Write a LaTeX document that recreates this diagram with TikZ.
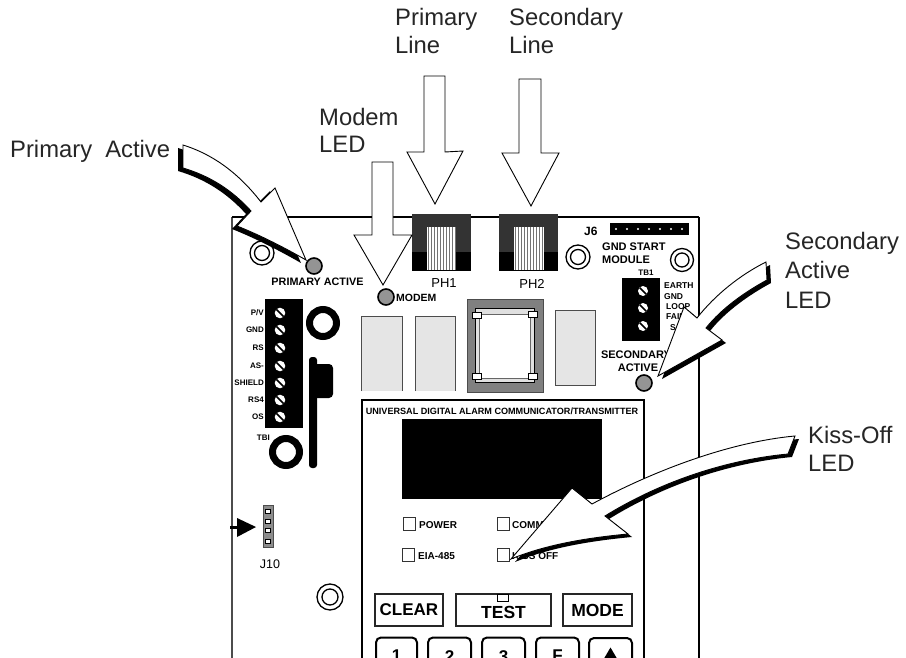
\documentclass[tikz,border=0pt]{standalone}
\usepackage{fontspec}
\setmainfont{Liberation Sans}
\newcommand\fsz[1]{\fontsize{#1}{#1}\selectfont}
\newcommand\fatarrow[3]{\fill[black,shift={(#1,#2)}] #3; \draw[fatbody] #3;}
\tikzset{
  bigtxt/.style={inner sep=0,anchor=base west,text=black!85,font=\fsz{23.8}},
  tiny/.style={inner sep=0,font=\fsz{#1}\bfseries},
  tiny/.default=9,
  fatbody/.style={draw=black,fill=white,line width=0.9,line join=miter},
  relay/.style={draw=black!70,line width=1,fill=black!10},
  standoff/.style={draw=black,line width=1.3,fill=white},
  btn/.style={draw=black!85,line width=1.4,fill=white},
  ledlamp/.style={draw=black,line width=1.6,fill=black!42},
  check/.style={draw=black!80,line width=1,fill=white},
}
\begin{document}
\begin{tikzpicture}[x=1pt,y=-1pt]
\clip (0,0) rectangle (906,658);
\fill[white] (0,0) rectangle (906,658);
% board
\draw[draw=black!70,line width=2] (232,658) -- (232,217);
\draw[black,line width=2.5] (232,217) -- (699,217);
\draw[black,line width=2] (699,217) -- (699,658);
% panel
\draw[black,line width=2] (362,658) -- (362,400) -- (644,400) -- (644,658);
% standoffs
\foreach \x/\y/\r/\i in {262/253/12/7.5,578/257/12/7.5,682/260/11.5/7,330/597/13/8}{
  \draw[standoff] (\x,\y) circle (\r);
  \draw[standoff] (\x,\y) circle (\i);
}
% LEDs
\node[ledlamp,circle,minimum size=16,inner sep=0] (ledprim) at (314,266) {};
\node[ledlamp,circle,minimum size=16,inner sep=0] (ledmodem) at (386,297) {};
\node[ledlamp,circle,minimum size=16,inner sep=0] (ledsec) at (644,383) {};
\node[tiny=10.8,anchor=center] (tprim) at (317.5,282) {PRIMARY ACTIVE};
\node[tiny=10.5,anchor=west] (tmodem) at (396,297.5) {MODEM};
% jacks
\foreach \xa/\xb/\sa/\sb/\nm in {412/471/427/456/PH1,499/558/514/544/PH2}{
  \fill[black!80] (\xa,214) rectangle (\xb,252);
  \fill[black] (\xa,252) rectangle (\xb,271);
  \fill[white] (\sa,227) rectangle (\sb,270);
  \foreach \s in {0,3,...,27}{\draw[black!55,line width=1] (\sa+\s+1,227) -- (\sa+\s+1,270);}
}
\node[inner sep=0,font=\fsz{13}] (ph1) at (444,283.5) {PH1};
\node[inner sep=0,font=\fsz{13}] (ph2) at (532,283.5) {PH2};
% relays
\draw[relay] (361,391) -- (361,316) -- (402,316) -- (402,391);
\draw[relay] (415,391) -- (415,316) -- (455,316) -- (455,391);
\draw[relay] (555,310) rectangle (595,385);
% transformer
\draw[fill=black!50,draw=black!70,line width=1] (467,299) rectangle (543,392);
\draw[fill=black!12,draw=black,line width=1] (475,308) rectangle (534,382);
\draw[fill=white,draw=black!60,line width=1] (479,314) rectangle (530,378);
\foreach \x/\y in {477/315,533/314,477/376,533/376}{
  \draw[fill=white,draw=black,line width=.8] (\x-4.5,\y-3) rectangle (\x+4.5,\y+3);
}
% J6 header
\fill[black] (610,223) rectangle (689,235);
\foreach \i in {0,...,6}{\fill[white] (616+\i*11,229) circle (1.1);}
\node[tiny=12,anchor=west] (j6) at (584,231) {J6};
\node[tiny=11,anchor=west] (gnd) at (602,247) {GND START};
\node[tiny=11,anchor=west] (mod) at (602,260) {MODULE};
\node[tiny=8,anchor=center] (tb) at (646,273) {TB1};
% right terminal block
\fill[black] (622,278) rectangle (660,341);
\foreach \y in {291,308,326}{
  \fill[white] (643,\y) circle (5);
  \draw[black,line width=1.5] (639.5,\y-3.5) -- (646.5,\y+3.5);
}
\node[tiny=8.5,anchor=west] (e1) at (664,286) {EARTH};
\node[tiny=8.5,anchor=west] (e2) at (664,297) {GND};
\node[tiny=8.5,anchor=west] (e3) at (666,307) {LOOP};
\node[tiny=8.5,anchor=west] (e4) at (666,316.5) {FAIL};
\node[tiny=8.5,anchor=west] (e5) at (670,328) {S};
\node[tiny=11,anchor=center] (s1) at (636,355) {SECONDARY};
\node[tiny=11,anchor=center] (s2) at (638,368) {ACTIVE};
% left terminal block
\fill[black] (265,299) rectangle (303,428);
\foreach \y in {313,330,348,366,383,400,417}{
  \fill[white] (280,\y) circle (5.3);
  \draw[black,line width=1.5] (276.3,\y-3.7) -- (283.7,\y+3.7);
}
\foreach \y/\t in {313/{P/V},330/GND,348/RS,366/AS-,383/SHIELD,400/RS4,417/OS}{
  \node[tiny=8,anchor=east] at (264,\y) {\t};
}
\node[tiny=8,anchor=east] (tbi) at (270,438) {TBI};
% rings
\draw[black,line width=7] (323,323) circle (13.5);
\draw[black,line width=7] (286,452) circle (13.5);
% connector
\fill[black,rounded corners=3] (309,357) rectangle (317,468);
\fill[black,rounded corners=4] (312,364) rectangle (333,398);
% J10
\node[draw=black!70,fill=black!45,line width=.8,minimum width=10,minimum height=42,inner sep=0] (j10) at (268,526) {};
\foreach \y in {511,521,530,541}{\draw[black,fill=white,line width=.8] (265.5,\y-2) rectangle (270.5,\y+2);}
\node[inner sep=0,font=\fsz{12.5}] (j10t) at (270,564) {J10};
\coordinate (j10a) at (230,527);
\coordinate (j10b) at (241,527);
\draw[black,line width=3] (j10a) -- (j10b);
\fill[black] (256,527) -- (237,518) -- (237,537) -- cycle;
% display
\node[tiny=9.1,anchor=center] (univ) at (502,411) {UNIVERSAL DIGITAL ALARM COMMUNICATOR/TRANSMITTER};
\fill[black] (402,419) rectangle (602,499);
% indicators
\node[check,minimum size=12.5,inner sep=0] (c1) at (409.5,524) {};
\node[check,minimum size=12.5,inner sep=0] (c2) at (503.5,524) {};
\node[check,minimum size=12.5,inner sep=0] (c3) at (408.5,555) {};
\node[check,minimum size=12.5,inner sep=0] (c4) at (503.5,555) {};
\node[tiny=10,anchor=west] (t1) at (419,525) {POWER};
\node[tiny=10,anchor=west] (t2) at (512,525) {COMM};
\node[tiny=10,anchor=west] (t3) at (418,556) {EIA-485};
\node[tiny=10,anchor=west] (t4) at (512,556) {KISS OFF};
% buttons
\node[btn,minimum width=68,minimum height=32,inner sep=0,font=\fsz{17}\bfseries] (clear) at (409,610) {CLEAR};
\draw[btn] (456,594) rectangle (551,626);
\draw[black,line width=1,fill=white] (497,594) rectangle (508,601);
\node[inner sep=0,font=\fsz{17.5}\bfseries] (test) at (503.5,612.5) {TEST};
\node[btn,minimum width=69,minimum height=32,inner sep=0,font=\fsz{17.5}\bfseries] (modebtn) at (597.5,610) {MODE};
\foreach \a/\b/\t in {376/417/1,428/471/2,482/525/3,536/579/F}{
  \draw[black,line width=2,rounded corners=5] (\a,670) -- (\a,637.5) -- (\b,637.5) -- (\b,670);
  \node[inner sep=0,anchor=north,font=\fsz{17}\bfseries] at ({(\a+\b)/2},650) {\t};
}
\draw[black,line width=2,rounded corners=5] (589,670) -- (589,638) -- (632,638) -- (632,670);
\fill[black] (610.5,647.5) -- (602,662) -- (619,662) -- cycle;
% plain arrows
\draw[fatbody] (424,76) -- (445,76) -- (445,152) -- (463,151) -- (435,204) -- (407,152) -- (424,152) -- cycle;
\draw[fatbody] (519,79) -- (541,79) -- (541,153) -- (559,153) -- (531,206) -- (502,153) -- (519,153) -- cycle;
\draw[fatbody] (372,162) -- (393,162) -- (393,235) -- (412,235) -- (383,285) -- (354,235) -- (372,235) -- cycle;
% curved arrows
\fatarrow{-5}{3}{(183,145) .. controls (215,155) and (240,175) .. (261,202) -- (275,188) -- (306,260) .. controls (285,248) and (262,236) .. (237,226) -- (251,211) .. controls (232,190) and (210,176) .. (183,168) -- cycle}
\fatarrow{4}{3}{(766,262) .. controls (740,275) and (715,295) .. (697,318) -- (684,307) -- (658,376) -- (722,340) -- (706,328) .. controls (722,308) and (745,292) .. (767,280) -- cycle}
\fatarrow{4}{3}{(795,436) .. controls (730,442) and (655,470) .. (592,504) -- (572,488) -- (511,559) .. controls (545,545) and (585,538) .. (628,534) -- (605,516) .. controls (660,482) and (725,460) .. (788,454) -- cycle}
% labels
\node[bigtxt] (lprim) at (10,158) {Primary\hspace{6.5pt} Active};
\node[bigtxt] (lm1) at (319,126) {Modem};
\node[bigtxt] (lm2) at (319,153) {LED};
\node[bigtxt] (lp1) at (395,26) {Primary};
\node[bigtxt] (lp2) at (395,54) {Line};
\node[bigtxt] (ls1) at (509,26) {Secondary};
\node[bigtxt] (ls2) at (509,54) {Line};
\node[bigtxt] (lsa1) at (785,250) {Secondary};
\node[bigtxt] (lsa2) at (785,279) {Active};
\node[bigtxt] (lsa3) at (785,308) {LED};
\node[bigtxt] (lk1) at (808,443) {Kiss-Off};
\node[bigtxt] (lk2) at (808,471) {LED};
\end{tikzpicture}
\end{document}
